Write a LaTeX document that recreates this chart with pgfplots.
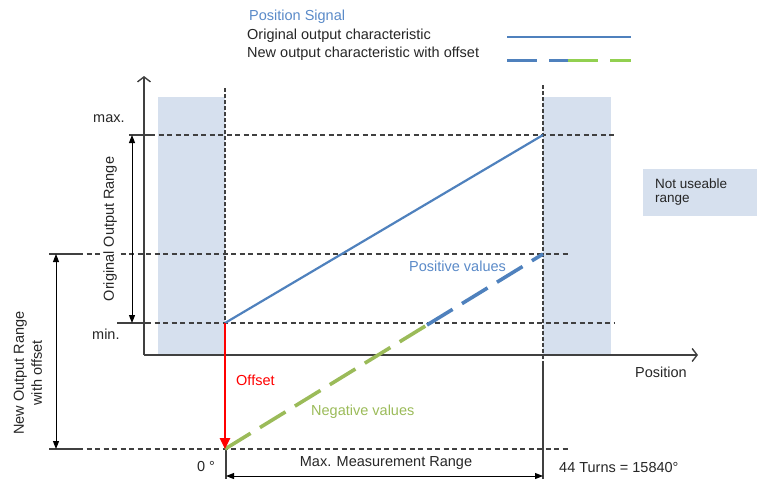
\documentclass[border=0pt]{standalone}
\usepackage{pgfplots}
\pgfplotsset{compat=1.18}
\usepackage{fontspec}
\setmainfont{Liberation Sans}
\usetikzlibrary{arrows.meta}
\definecolor{lblue}{HTML}{4F81BD}
\definecolor{tblue}{HTML}{5A8AC8}
\definecolor{dgreen}{HTML}{9BBB59}
\definecolor{lgreen}{HTML}{92D050}
\definecolor{shade}{HTML}{D6E0EE}
\definecolor{axc}{HTML}{404040}
\definecolor{txt}{HTML}{262626}
\begin{document}
\begin{tikzpicture}[font=\fontsize{14.5}{18}\selectfont, every node/.style={inner sep=0pt, text=txt}]
\begin{axis}[width=762pt,height=479pt,scale only axis,axis lines=none,
  xmin=0,xmax=762,ymin=0,ymax=479,y dir=reverse,clip=false]
\path[draw=none] (axis cs:0,0) rectangle (axis cs:762,479);
% not useable areas
\addplot[fill=shade,draw=none] coordinates {(158,97)(225,97)(225,355)(158,355)} -- cycle;
\addplot[fill=shade,draw=none] coordinates {(543,97)(611,97)(611,355)(543,355)} -- cycle;
\addplot[fill=shade,draw=none] coordinates {(643,169)(757,169)(757,216)(643,216)} -- cycle;
% horizontal reference lines
\draw[axc,line width=1.1pt] (axis cs:129,135) -- (axis cs:150,135);
\draw[axc,line width=1.1pt,dash pattern=on 5pt off 3.5pt] (axis cs:150,135) -- (axis cs:614,135);
\draw[axc,line width=1.1pt] (axis cs:117,323) -- (axis cs:146,323);
\draw[axc,line width=1.1pt,dash pattern=on 5pt off 3.5pt] (axis cs:146,323) -- (axis cs:614,323);
\draw[axc,line width=1.1pt] (axis cs:49,254) -- (axis cs:78,254);
\draw[axc,line width=1.1pt,dash pattern=on 5pt off 3.5pt] (axis cs:78,254) -- (axis cs:568,254);
\draw[axc,line width=1.1pt] (axis cs:49,449) -- (axis cs:78,449);
\draw[axc,line width=1.1pt,dash pattern=on 5pt off 3.5pt] (axis cs:78,449) -- (axis cs:568,449);
% vertical reference lines
\draw[axc,line width=1.3pt,dash pattern=on 3.5pt off 2.5pt] (axis cs:225,88) -- (axis cs:225,323);
\draw[axc,line width=1.1pt] (axis cs:226,449) -- (axis cs:226,479);
\draw[axc,line width=1.3pt,dash pattern=on 3.5pt off 2.5pt] (axis cs:543,85) -- (axis cs:543,362);
\draw[axc,line width=1.1pt] (axis cs:543,362) -- (axis cs:543,479);
% axes
\draw[axc,line width=1.4pt,-{Straight Barb[length=5pt,width=13pt]}] (axis cs:144,355) -- (axis cs:144,76);
\draw[axc,line width=1.4pt,-{Straight Barb[length=5pt,width=13pt]}] (axis cs:144,355) -- (axis cs:698,355);
% dimension arrows
\draw[black,line width=1pt,{Triangle[length=8pt,width=6pt]}-{Triangle[length=8pt,width=6pt]}] (axis cs:132,135) -- (axis cs:132,323);
\draw[black,line width=1pt,{Triangle[length=8pt,width=6pt]}-{Triangle[length=8pt,width=6pt]}] (axis cs:56,254) -- (axis cs:56,449);
\draw[black,line width=1pt,{Triangle[length=8pt,width=6pt]}-{Triangle[length=8pt,width=6pt]}] (axis cs:226,476) -- (axis cs:543,476);
% output characteristics
\addplot[lblue,line width=2.2pt] coordinates {(225,323)(543,135)};
\addplot[dgreen,line width=3.6pt,dash pattern=on 30pt off 11pt] coordinates {(225,449)(427,325)};
\addplot[lblue,line width=3.6pt,dash pattern=on 30pt off 11pt] coordinates {(427,325)(543,254)};
% offset arrow
\draw[red,line width=2.6pt,-{Triangle[length=11pt,width=10pt]}] (axis cs:225,323) -- (axis cs:225,449);
% legend samples
\addplot[lblue,line width=2.6pt] coordinates {(507,37)(631,37)};
\addplot[lblue,line width=3pt] coordinates {(507,60)(537,60)};
\addplot[lblue,line width=3pt] coordinates {(549,60)(568,60)};
\addplot[lgreen,line width=3pt] coordinates {(568,60)(598,60)};
\addplot[lgreen,line width=3pt] coordinates {(610,60)(631,60)};
% texts
\node[anchor=west,text=tblue] at (axis cs:249,17) {Position Signal};
\node[anchor=west] at (axis cs:247,36) {Original output characteristic};
\node[anchor=west] at (axis cs:247,54) {New output characteristic with offset};
\node[anchor=west] at (axis cs:93,119) {max.};
\node[anchor=west] at (axis cs:92,334) {min.};
\node at (axis cs:206,466) {0 °};
\node[anchor=west,text=red] at (axis cs:236,380) {Offset};
\node[anchor=west,text=dgreen] at (axis cs:311,412) {Negative values};
\node[anchor=west,text=tblue] at (axis cs:409,266) {Positive values};
\node[anchor=west] at (axis cs:635,372) {Position};
\node at (axis cs:386,463) {Max. Measurement Range};
\node[anchor=west] at (axis cs:559,467) {44 Turns = 15840°};
\node[anchor=west,font=\fontsize{13.5}{16}\selectfont] at (axis cs:655,184) {Not useable};
\node[anchor=west,font=\fontsize{13.5}{16}\selectfont] at (axis cs:655,200) {range};
\node[rotate=90,fill=white,inner xsep=4pt,inner ysep=2pt] at (axis cs:110,229) {Original Output Range};
\node[rotate=90,align=center] at (axis cs:28,373) {New Output Range\\with offset};
\end{axis}
\end{tikzpicture}
\end{document}
